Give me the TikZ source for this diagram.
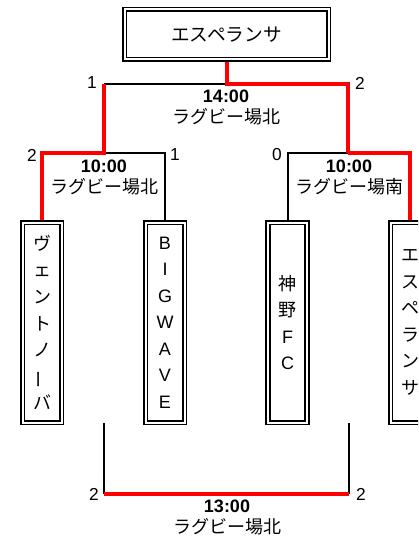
\documentclass[tikz,border=0pt]{standalone}
\usepackage{fontspec}
\setmainfont{Noto Sans CJK JP}
\newfontfamily\latinfont{Liberation Sans}
\newcommand{\tatebou}{\rotatebox[origin=c]{90}{ー}}

\tikzset{
  teambox/.style={draw, line width=1.2pt, double, double distance=1.5pt, outer sep=1.95pt,
    minimum width=29.25pt, minimum height=150pt, inner sep=0pt, align=center,
    font=\fontsize{13.5}{19.9}\selectfont},
  champbox/.style={draw, line width=1.2pt, double, double distance=1.5pt, outer sep=1.95pt,
    minimum width=153pt, minimum height=37.5pt, inner sep=0pt,
    font=\fontsize{14}{16}\selectfont},
}

\begin{document}
\begin{tikzpicture}[x=0.75pt,y=0.75pt,yscale=-1,xscale=1,
  win/.style={draw=red, line width=3pt},
  lose/.style={draw=black, line width=1.5pt},
  score/.style={inner sep=0pt, font=\latinfont\fontsize{13}{13}\selectfont},
  match/.style={inner sep=0pt, align=center, font=\fontsize{13.5}{15.75}\selectfont}]
\useasboundingbox (0,0) rectangle (418,542);
\clip (0,0) rectangle (418,542);

% Champion
\node[champbox] (champ) at (226.5,34.5) {エスペランサ};
% Teams
\node[teambox] (t1) at (42,322.5) {ヴ\\ェ\\ン\\ト\\ノ\\\tatebou\\バ};
\node[teambox] (t2) at (165,322.5) {\latinfont B\\\latinfont I\\\latinfont G\\\latinfont W\\\latinfont A\\\latinfont V\\\latinfont E};
\node[teambox] (t3) at (287.5,322.5) {神\\野\\\latinfont F\\\latinfont C};
\node[teambox] (t4) at (410,322.5) {エ\\ス\\ペ\\ラ\\ン\\サ};

% Bracket points
\coordinate (f1) at (104,84);
\coordinate (f2) at (348,84);
\coordinate (s1) at (104,153);
\coordinate (s2) at (348,153);
\coordinate (b1t) at (104,423);
\coordinate (b2t) at (349,423);
\coordinate (b1) at (104,494);
\coordinate (b2) at (349,494);

% Connection
\draw[lose] (f1) -- (f1 -| champ.south);
\draw[lose] (s1) -| (t2.north);
\draw[lose] (s2) -| (t3.north);
\draw[lose] (b1t) -- (b1);
\draw[lose] (b2t) -- (b2);
% Winners
\draw[win] (champ.south) |- (f2) -- (s2);
\draw[win] (f1) -- (s1) -| (t1.north);
\draw[win] (s2) -| (t4.north);
\draw[win] (b1) -- (b2);

% Scores
\node[score] (sc1) at (92,83) {1};
\node[score] (sc2) at (360,83) {2};
\node[score] (sc3) at (32,155) {2};
\node[score] (sc4) at (175,155) {1};
\node[score] (sc5) at (277,155) {0};
\node[score] (sc6) at (94,494) {2};
\node[score] (sc7) at (361,494) {2};

% Match Labels
\node[match] (m1) at (226,107.5) {{\latinfont\bfseries 14:00}\\ラグビー場北};
\node[match] (m2) at (104,177.5) {{\latinfont\bfseries 10:00}\\ラグビー場北};
\node[match] (m3) at (349,177.5) {{\latinfont\bfseries 10:00}\\ラグビー場南};
\node[match] (m4) at (227,517.5) {{\latinfont\bfseries 13:00}\\ラグビー場北};

\end{tikzpicture}
\end{document}
